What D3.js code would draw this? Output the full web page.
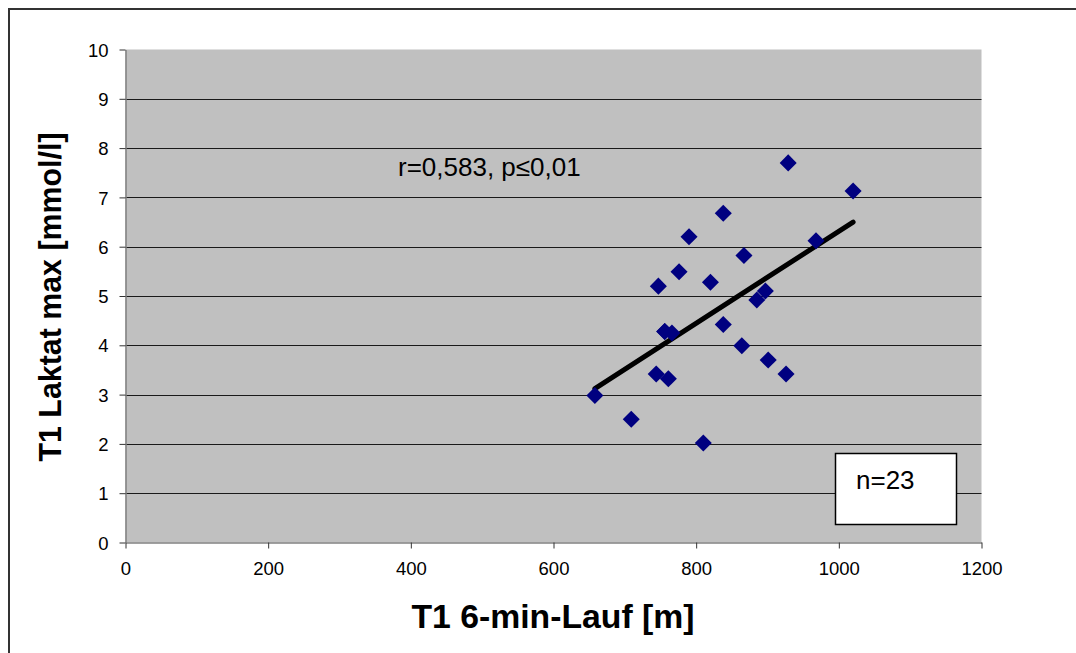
<!DOCTYPE html>
<html><head><meta charset="utf-8">
<script src="https://cdn.jsdelivr.net/npm/d3@7"></script>
<style>body{margin:0;background:#fff}svg{display:block}</style>
</head><body>
<script>
const xValues = [658, 709, 810, 744, 761, 747, 756, 766, 776, 790, 820, 838, 838, 864, 867, 885, 897, 901, 926, 929, 968, 1020, 756];
const yValues = [2.98, 2.5, 2.02, 3.42, 3.32, 5.2, 4.28, 4.25, 5.49, 6.2, 5.28, 4.42, 6.68, 3.99, 5.82, 4.92, 5.1, 3.7, 3.42, 7.7, 6.12, 7.13, 4.28];
const trendX = [658, 1020];
const trendY = [3.12, 6.5];
const xTicks = [0, 200, 400, 600, 800, 1000, 1200];
const yTicks = [0,1,2,3,4,5,6,7,8,9,10];
const xTitle = "T1 6-min-Lauf [m]";
const yTitle = "T1 Laktat max [mmol/l]";
const annotation = "r=0,583, p≤0,01";
const nLabel = "n=23";

const W = 1076, H = 653;
const svg = d3.select("body").append("svg").attr("width", W).attr("height", H);
const font = "'Liberation Sans', Arial, sans-serif";

svg.append("rect").attr("x", 9).attr("y", 9).attr("width", W + 20).attr("height", H + 20)
  .attr("fill", "#fff").attr("stroke", "#333").attr("stroke-width", 2);

const L = 125.5, R = 981.5, T = 49.5, B = 542.5;
const x = d3.scaleLinear().domain([0, 1200]).range([L, R]);
const y = d3.scaleLinear().domain([0, 10]).range([B, T]);

svg.append("rect").attr("x", L).attr("y", T).attr("width", R - L).attr("height", B - T).attr("fill", "#c0c0c0");

svg.append("g").selectAll("line").data(yTicks.filter(d => d > 0 && d < 10)).join("line")
  .attr("x1", L).attr("x2", R).attr("y1", d => Math.round(y(d)) + 0.5).attr("y2", d => Math.round(y(d)) + 0.5)
  .attr("stroke", "#1a1a1a").attr("stroke-width", 1.2);

const xAxis = svg.append("g").attr("transform", `translate(0,${B})`)
  .call(d3.axisBottom(x).tickValues(xTicks).tickSize(6).tickSizeOuter(0).tickFormat(d3.format("d")));
const yAxis = svg.append("g").attr("transform", `translate(${L},0)`)
  .call(d3.axisLeft(y).tickValues(yTicks).tickSize(6).tickSizeOuter(0).tickFormat(d3.format("d")));
[xAxis, yAxis].forEach(g => {
  g.select(".domain").attr("stroke", "#808080").attr("stroke-width", 1.5);
  g.selectAll(".tick line").attr("stroke", "#333");
  g.selectAll(".tick text").attr("font-family", font).attr("font-size", 18.5).attr("fill", "#000");
});
xAxis.selectAll(".tick text").attr("y", 32).attr("dy", 0);
yAxis.selectAll(".tick text").attr("x", -17).attr("dy", "0.36em");

svg.append("line").attr("x1", x(trendX[0])).attr("y1", y(trendY[0]))
  .attr("x2", x(trendX[1])).attr("y2", y(trendY[1]))
  .attr("stroke", "#000").attr("stroke-width", 5).attr("stroke-linecap", "round");

const pts = xValues.map((v, i) => [v, yValues[i]]);
svg.append("g").selectAll("path").data(pts).join("path")
  .attr("d", d3.symbol().type(d3.symbolDiamond2).size(185))
  .attr("transform", d => `translate(${x(d[0])},${y(d[1])})`)
  .attr("fill", "#000080");

svg.append("rect").attr("x", 835.5).attr("y", 453.5).attr("width", 121).attr("height", 71)
  .attr("fill", "#fff").attr("stroke", "#000").attr("stroke-width", 1.5);
svg.append("text").attr("x", 856).attr("y", 489).attr("font-family", font).attr("font-size", 26).text(nLabel);

svg.append("text").attr("x", 398).attr("y", 176).attr("font-family", font).attr("font-size", 26).text(annotation);

svg.append("text").attr("x", 553).attr("y", 628).attr("text-anchor", "middle")
  .attr("font-family", font).attr("font-size", 33).attr("font-weight", "bold")
  .attr("textLength", 283).attr("lengthAdjust", "spacingAndGlyphs").text(xTitle);
svg.append("text").attr("transform", `translate(61,297) rotate(-90)`).attr("text-anchor", "middle")
  .attr("font-family", font).attr("font-size", 31).attr("font-weight", "bold")
  .attr("textLength", 329).attr("lengthAdjust", "spacingAndGlyphs").text(yTitle);
</script>
</body></html>
